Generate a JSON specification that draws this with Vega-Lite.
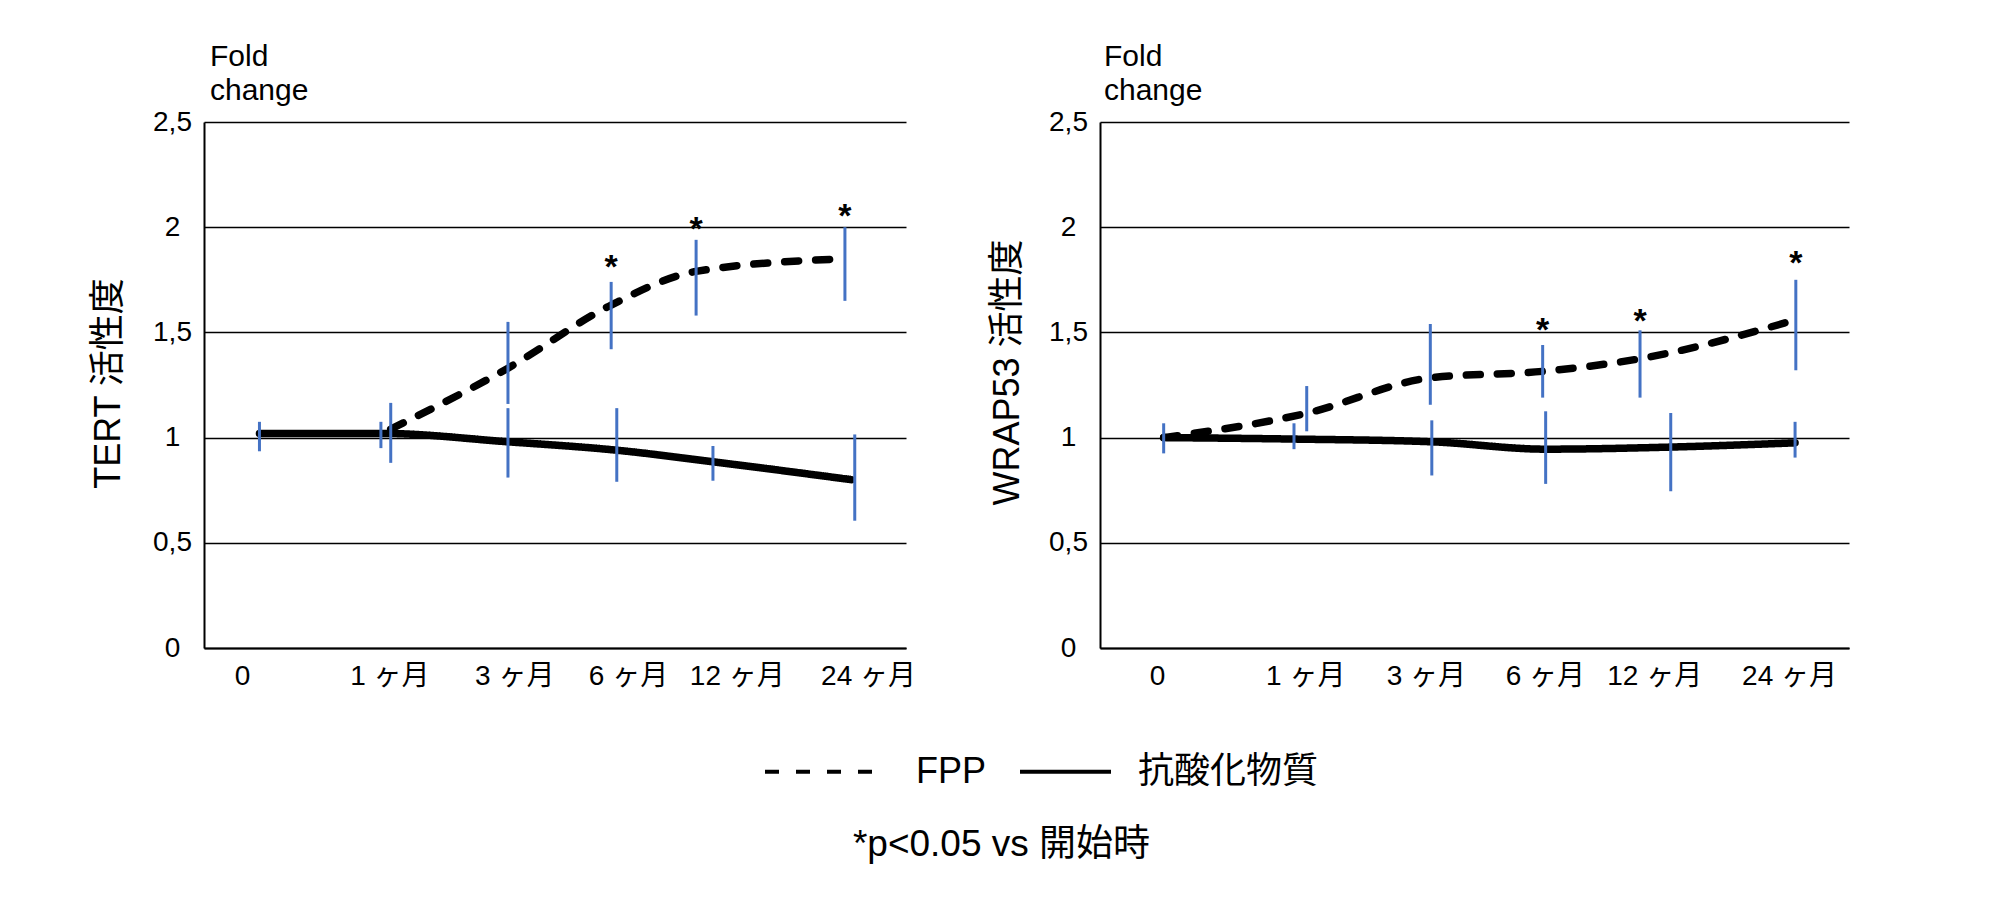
{
  "$schema": "https://vega.github.io/schema/vega-lite/v6.json",
  "padding": {"left": 90, "top": 42, "right": 10, "bottom": 10},
  "background": "white",
  "title": {
    "text": "*p<0.05 vs 開始時",
    "orient": "bottom",
    "anchor": "middle",
    "dx": 32,
    "fontSize": 37,
    "fontWeight": "normal",
    "font": "Liberation Sans, Noto Sans CJK JP",
    "color": "black",
    "offset": 37
  },
  "data": {
    "values": [
      {"panel": "TERT", "series": "抗酸化物質", "time": "0", "x": 7.9, "value": 1.02, "ex": 7.9, "lo": 0.935, "hi": 1.075, "star": null},
      {"panel": "TERT", "series": "抗酸化物質", "time": "1", "x": 25.2, "value": 1.02, "ex": 25.2, "lo": 0.95, "hi": 1.075, "star": null},
      {"panel": "TERT", "series": "抗酸化物質", "time": "3", "x": 43.3, "value": 0.98, "ex": 43.3, "lo": 0.81, "hi": 1.14, "star": null},
      {"panel": "TERT", "series": "抗酸化物質", "time": "6", "x": 58.8, "value": 0.94, "ex": 58.8, "lo": 0.79, "hi": 1.14, "star": null},
      {"panel": "TERT", "series": "抗酸化物質", "time": "12", "x": 72.5, "value": 0.885, "ex": 72.5, "lo": 0.795, "hi": 0.96, "star": null},
      {"panel": "TERT", "series": "抗酸化物質", "time": "24", "x": 92.2, "value": 0.8, "ex": 92.7, "lo": 0.605, "hi": 1.015, "star": null},
      {"panel": "TERT", "series": "FPP", "time": "1", "x": 26.6, "value": 1.04, "ex": 26.6, "lo": 0.88, "hi": 1.165, "star": null},
      {"panel": "TERT", "series": "FPP", "time": "3", "x": 43.3, "value": 1.33, "ex": 43.3, "lo": 1.16, "hi": 1.55, "star": null},
      {"panel": "TERT", "series": "FPP", "time": "6", "x": 58.0, "value": 1.63, "ex": 58.0, "lo": 1.42, "hi": 1.74, "star": 1.85},
      {"panel": "TERT", "series": "FPP", "time": "12", "x": 70.1, "value": 1.79, "ex": 70.1, "lo": 1.58, "hi": 1.94, "star": 2.03},
      {"panel": "TERT", "series": "FPP", "time": "24", "x": 91.3, "value": 1.85, "ex": 91.3, "lo": 1.65, "hi": 2.0, "star": 2.09},
      {"panel": "WRAP53", "series": "抗酸化物質", "time": "0", "x": 8.5, "value": 1.0, "ex": 8.5, "lo": 0.925, "hi": 1.068, "star": null},
      {"panel": "WRAP53", "series": "抗酸化物質", "time": "1", "x": 25.9, "value": 0.993, "ex": 25.9, "lo": 0.945, "hi": 1.068, "star": null},
      {"panel": "WRAP53", "series": "抗酸化物質", "time": "3", "x": 44.3, "value": 0.98, "ex": 44.3, "lo": 0.82, "hi": 1.082, "star": null},
      {"panel": "WRAP53", "series": "抗酸化物質", "time": "6", "x": 59.5, "value": 0.945, "ex": 59.5, "lo": 0.78, "hi": 1.125, "star": null},
      {"panel": "WRAP53", "series": "抗酸化物質", "time": "12", "x": 76.2, "value": 0.955, "ex": 76.2, "lo": 0.745, "hi": 1.117, "star": null},
      {"panel": "WRAP53", "series": "抗酸化物質", "time": "24", "x": 92.8, "value": 0.975, "ex": 92.8, "lo": 0.905, "hi": 1.075, "star": null},
      {"panel": "WRAP53", "series": "FPP", "time": "0", "x": 8.5, "value": 1.0, "ex": null, "lo": null, "hi": null, "star": null},
      {"panel": "WRAP53", "series": "FPP", "time": "1", "x": 27.6, "value": 1.116, "ex": 27.6, "lo": 1.03, "hi": 1.245, "star": null},
      {"panel": "WRAP53", "series": "FPP", "time": "3", "x": 44.1, "value": 1.284, "ex": 44.1, "lo": 1.156, "hi": 1.54, "star": null},
      {"panel": "WRAP53", "series": "FPP", "time": "6", "x": 59.1, "value": 1.315, "ex": 59.1, "lo": 1.19, "hi": 1.44, "star": 1.55},
      {"panel": "WRAP53", "series": "FPP", "time": "12", "x": 72.1, "value": 1.375, "ex": 72.1, "lo": 1.19, "hi": 1.51, "star": 1.59},
      {"panel": "WRAP53", "series": "FPP", "time": "24", "x": 92.9, "value": 1.56, "ex": 92.9, "lo": 1.32, "hi": 1.75, "star": 1.87}
    ]
  },
  "spacing": 73,
  "hconcat": [
    {
      "width": 702,
      "height": 526,
      "title": {"text": ["Fold", "change"], "anchor": "start", "frame": "group", "dx": 6, "offset": 2, "fontSize": 30, "lineHeight": 34, "fontWeight": "normal", "font": "Liberation Sans", "color": "black"},
      "transform": [{"filter": "datum.panel == 'TERT'"}],
      "layer": [
        {
          "mark": {"type": "line", "interpolate": "monotone", "strokeWidth": 7.5, "color": "black", "strokeCap": "round", "strokeJoin": "round"},
          "encoding": {
            "x": {"field": "x", "type": "quantitative", "title": null, "scale": {"domain": [0, 100], "nice": false, "zero": false},
              "axis": {"values": [5.4, 26.4, 44.2, 60.4, 75.9, 94.6], "labelExpr": "datum.value < 15 ? '0' : datum.value < 35 ? '1 ヶ月' : datum.value < 52 ? '3 ヶ月' : datum.value < 68 ? '6 ヶ月' : datum.value < 85 ? '12 ヶ月' : '24 ヶ月'"}},
            "y": {"field": "value", "type": "quantitative", "title": "TERT 活性度", "scale": {"domain": [0, 2.5], "nice": false, "zero": false},
              "axis": {"values": [0, 0.5, 1, 1.5, 2, 2.5], "labelExpr": "replace(format(datum.value, '~g'), '.', ',')", "titleX": -96, "titleY": 261}},
            "strokeDash": {"field": "series", "type": "nominal",
              "scale": {"domain": ["FPP", "抗酸化物質"], "range": [[14, 17], [1, 0]]},
              "legend": {
                "orient": "none", "legendX": 561, "legendY": 602, "direction": "horizontal", "title": null,
                "encode": {
                  "symbols": {"update": {
                    "size": {"signal": "datum.value === 'FPP' ? 14641 : 8281"},
                    "x": {"signal": "datum.value === 'FPP' ? 60.5 : 45.5"}
                  }},
                  "labels": {"update": {
                    "x": {"signal": "datum.value === 'FPP' ? 151 : 118"}
                  }}
                }
              }}
          }
        },
        {
          "transform": [{"filter": "datum.lo != null"}],
          "mark": {"type": "rule", "color": "#4472C4", "strokeWidth": 3},
          "encoding": {
            "x": {"field": "ex", "type": "quantitative", "title": null},
            "y": {"field": "lo", "type": "quantitative", "title": "TERT 活性度"},
            "y2": {"field": "hi"}
          }
        },
        {
          "transform": [{"filter": "datum.star != null"}],
          "mark": {"type": "text", "text": "*", "fontSize": 34, "fontWeight": "bold", "baseline": "alphabetic", "dy": 19, "font": "Liberation Sans", "color": "black"},
          "encoding": {
            "x": {"field": "x", "type": "quantitative", "title": null},
            "y": {"field": "star", "type": "quantitative", "title": "TERT 活性度"}
          }
        }
      ]
    },
    {
      "width": 749,
      "height": 526,
      "title": {"text": ["Fold", "change"], "anchor": "start", "frame": "group", "dx": 4, "offset": 2, "fontSize": 30, "lineHeight": 34, "fontWeight": "normal", "font": "Liberation Sans", "color": "black"},
      "transform": [{"filter": "datum.panel == 'WRAP53'"}],
      "layer": [
        {
          "mark": {"type": "line", "interpolate": "monotone", "strokeWidth": 7.5, "color": "black", "strokeCap": "round", "strokeJoin": "round"},
          "encoding": {
            "x": {"field": "x", "type": "quantitative", "title": null, "scale": {"domain": [0, 100], "nice": false, "zero": false},
              "axis": {"values": [7.6, 27.4, 43.5, 59.4, 74.0, 92.0], "labelExpr": "datum.value < 15 ? '0' : datum.value < 35 ? '1 ヶ月' : datum.value < 52 ? '3 ヶ月' : datum.value < 68 ? '6 ヶ月' : datum.value < 85 ? '12 ヶ月' : '24 ヶ月'"}},
            "y": {"field": "value", "type": "quantitative", "title": "WRAP53 活性度", "scale": {"domain": [0, 2.5], "nice": false, "zero": false},
              "axis": {"values": [0, 0.5, 1, 1.5, 2, 2.5], "labelExpr": "replace(format(datum.value, '~g'), '.', ',')", "titleX": -93, "titleY": 250}},
            "strokeDash": {"field": "series", "type": "nominal",
              "scale": {"domain": ["FPP", "抗酸化物質"], "range": [[14, 17], [1, 0]]}}
          }
        },
        {
          "transform": [{"filter": "datum.lo != null"}],
          "mark": {"type": "rule", "color": "#4472C4", "strokeWidth": 3},
          "encoding": {
            "x": {"field": "ex", "type": "quantitative", "title": null},
            "y": {"field": "lo", "type": "quantitative", "title": "WRAP53 活性度"},
            "y2": {"field": "hi"}
          }
        },
        {
          "transform": [{"filter": "datum.star != null"}],
          "mark": {"type": "text", "text": "*", "fontSize": 34, "fontWeight": "bold", "baseline": "alphabetic", "dy": 19, "font": "Liberation Sans", "color": "black"},
          "encoding": {
            "x": {"field": "x", "type": "quantitative", "title": null},
            "y": {"field": "star", "type": "quantitative", "title": "WRAP53 活性度"}
          }
        }
      ]
    }
  ],
  "resolve": {"scale": {"strokeDash": "shared"}},
  "config": {
    "view": {"stroke": null},
    "axis": {
      "domainColor": "black",
      "domainWidth": 2,
      "ticks": false,
      "labelFont": "Liberation Sans, Noto Sans CJK JP",
      "labelFontSize": 28,
      "labelColor": "black",
      "labelOverlap": false,
      "labelFlush": false,
      "titleFont": "Liberation Sans, Noto Sans CJK JP",
      "titleFontSize": 36,
      "titleFontWeight": "normal",
      "titleColor": "black",
      "titleBaseline": "middle",
      "gridColor": "black",
      "gridWidth": 1.5,
      "gridOpacity": 1
    },
    "axisX": {"grid": false, "labelPadding": 14},
    "axisY": {"grid": true, "labelAlign": "center", "labelBaseline": "middle", "labelPadding": 32},
    "legend": {
      "symbolType": "stroke",
      "symbolSize": 14641,
      "symbolStrokeWidth": 4,
      "symbolStrokeColor": "black",
      "labelFont": "Liberation Sans, Noto Sans CJK JP",
      "labelFontSize": 36,
      "labelColor": "black",
      "labelOffset": 30,
      "columnPadding": 25,
      "labelLimit": 400
    }
  }
}
